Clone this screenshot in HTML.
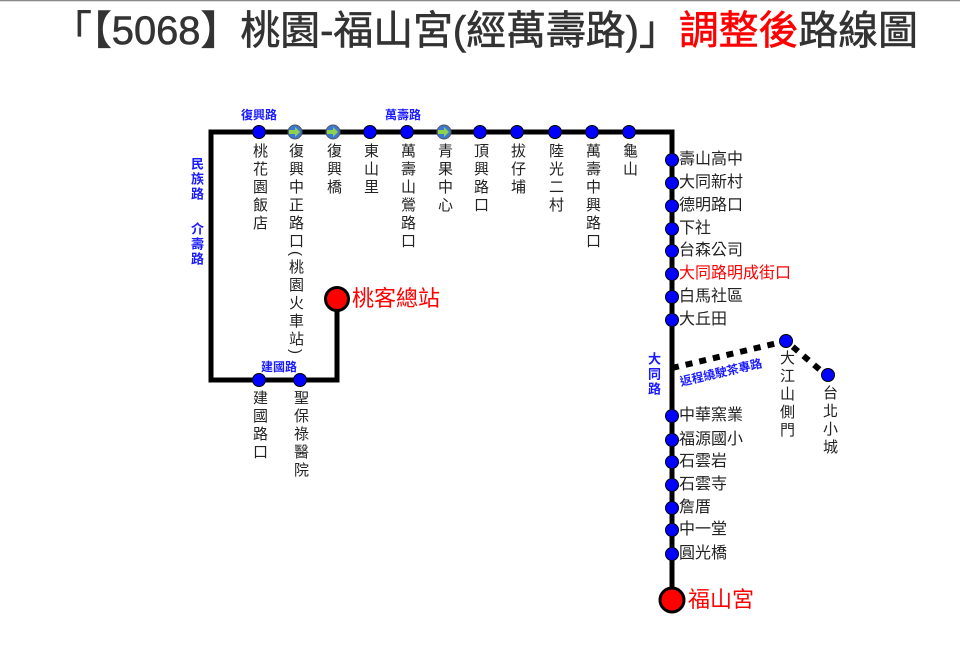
<!DOCTYPE html>
<html><head><meta charset="utf-8"><style>
html,body{margin:0;padding:0;background:#fff;}
#c{position:relative;width:960px;height:664px;overflow:hidden;font-family:"Liberation Sans","Noto Sans CJK TC",sans-serif;}
svg{position:absolute;left:0;top:0;}
.v{position:absolute;writing-mode:vertical-rl;font-size:15px;color:#222;letter-spacing:3px;line-height:16px;transform:translateX(-50%);white-space:nowrap;}
.h{position:absolute;font-size:16px;color:#222;white-space:nowrap;line-height:18px;transform:translateY(-50%);}
.r{color:#f00;}
.b{position:absolute;color:#1a1aff;font-size:12px;font-weight:bold;white-space:nowrap;}
.bv{position:absolute;color:#1a1aff;font-size:13px;font-weight:bold;writing-mode:vertical-rl;letter-spacing:2px;line-height:14px;}
</style></head><body><div id="c">
<svg width="960" height="664" viewBox="0 0 960 664" font-family="Liberation Sans, Noto Sans CJK TC, sans-serif">
<line x1="0" y1="0.5" x2="960" y2="0.5" stroke="#888" stroke-width="1.5"/>
<text x="52" y="44" font-size="40" fill="#333" stroke="#333" stroke-width="0.6" textLength="866" lengthAdjust="spacingAndGlyphs">「【5068】桃園-福山宮(經萬壽路)」<tspan fill="#f00" stroke="#f00">調整後</tspan>路線圖</text>
<g stroke="#000" stroke-width="5" fill="none" stroke-linejoin="miter">
<polyline points="672,600 672,132 211,132 211,380 337,380 337,299"/>
</g>
<polyline points="672,368 786,341 826,375" stroke="#000" stroke-width="6" fill="none" stroke-dasharray="7,7"/>
<g fill="#0000ff" stroke="#000" stroke-width="1">
<circle cx="259" cy="132" r="6.5"/><circle cx="370" cy="132" r="6.5"/><circle cx="407" cy="132" r="6.5"/>
<circle cx="480" cy="132" r="6.5"/><circle cx="517" cy="132" r="6.5"/><circle cx="555" cy="132" r="6.5"/><circle cx="592" cy="132" r="6.5"/><circle cx="629" cy="132" r="6.5"/>
<circle cx="259" cy="380" r="6.5"/><circle cx="300" cy="380" r="6.5"/>
<circle cx="672" cy="160" r="6.5"/><circle cx="672" cy="183" r="6.5"/><circle cx="672" cy="206" r="6.5"/><circle cx="672" cy="229" r="6.5"/><circle cx="672" cy="251" r="6.5"/><circle cx="672" cy="274" r="6.5"/><circle cx="672" cy="297" r="6.5"/><circle cx="672" cy="320" r="6.5"/>
<circle cx="672" cy="416" r="6.5"/><circle cx="672" cy="440" r="6.5"/><circle cx="672" cy="462" r="6.5"/><circle cx="672" cy="485" r="6.5"/><circle cx="672" cy="508" r="6.5"/><circle cx="672" cy="530" r="6.5"/><circle cx="672" cy="554" r="6.5"/>
<circle cx="786" cy="341" r="6.5"/><circle cx="828" cy="375" r="6.5"/>
</g>
<g>
<circle cx="295" cy="132" r="7" fill="#3a78d8" stroke="#555" stroke-width="1"/><path d="M289,130 h6 v-3 l5,5 l-5,5 v-3 h-6z" fill="#8fd14f"/>
<circle cx="333" cy="132" r="7" fill="#3a78d8" stroke="#555" stroke-width="1"/><path d="M327,130 h6 v-3 l5,5 l-5,5 v-3 h-6z" fill="#8fd14f"/>
<circle cx="444" cy="132" r="7" fill="#3a78d8" stroke="#555" stroke-width="1"/><path d="M438,130 h6 v-3 l5,5 l-5,5 v-3 h-6z" fill="#8fd14f"/>
</g>
<circle cx="337" cy="299" r="11.5" fill="#f00" stroke="#000" stroke-width="3"/>
<circle cx="672" cy="600" r="12" fill="#f00" stroke="#000" stroke-width="3"/>
<text x="0" y="0" font-size="12" font-weight="bold" fill="#1a1aff" transform="translate(681,386) rotate(-13)">返程繞駛茶專路</text>
</svg>
<div class="v" style="left:259px;top:143px">桃花園飯店</div>
<div class="v" style="left:295px;top:143px">復興中正路口(桃園火車站)</div>
<div class="v" style="left:333px;top:143px">復興橋</div>
<div class="v" style="left:370px;top:143px">東山里</div>
<div class="v" style="left:407px;top:143px">萬壽山鶯路口</div>
<div class="v" style="left:444px;top:143px">青果中心</div>
<div class="v" style="left:480px;top:143px">頂興路口</div>
<div class="v" style="left:517px;top:143px">拔仔埔</div>
<div class="v" style="left:555px;top:143px">陸光二村</div>
<div class="v" style="left:592px;top:143px">萬壽中興路口</div>
<div class="v" style="left:629px;top:143px">龜山</div>
<div class="v" style="left:259px;top:390px">建國路口</div>
<div class="v" style="left:300px;top:390px">聖保祿醫院</div>
<div class="v" style="left:786px;top:350px">大江山側門</div>
<div class="v" style="left:829px;top:385px">台北小城</div>
<div class="h" style="left:679px;top:160px">壽山高中</div>
<div class="h" style="left:679px;top:183px">大同新村</div>
<div class="h" style="left:679px;top:206px">德明路口</div>
<div class="h" style="left:679px;top:229px">下社</div>
<div class="h" style="left:679px;top:251px">台森公司</div>
<div class="h r" style="left:679px;top:274px">大同路明成街口</div>
<div class="h" style="left:679px;top:297px">白馬社區</div>
<div class="h" style="left:679px;top:320px">大丘田</div>
<div class="h" style="left:679px;top:416px">中華窯業</div>
<div class="h" style="left:679px;top:440px">福源國小</div>
<div class="h" style="left:679px;top:462px">石雲岩</div>
<div class="h" style="left:679px;top:485px">石雲寺</div>
<div class="h" style="left:679px;top:508px">詹厝</div>
<div class="h" style="left:679px;top:530px">中一堂</div>
<div class="h" style="left:679px;top:554px">圓光橋</div>
<div class="h r" style="left:352px;top:299px;font-size:22px;line-height:24px">桃客總站</div>
<div class="h r" style="left:688px;top:600px;font-size:22px;line-height:24px">福山宮</div>
<div class="b" style="left:241px;top:106px">復興路</div>
<div class="b" style="left:385px;top:106px">萬壽路</div>
<div class="b" style="left:261px;top:358px">建國路</div>
<div class="bv" style="left:189px;top:157px">民族路</div>
<div class="bv" style="left:189px;top:222px">介壽路</div>
<div class="bv" style="left:646px;top:352px">大同路</div>
</div></body></html>
